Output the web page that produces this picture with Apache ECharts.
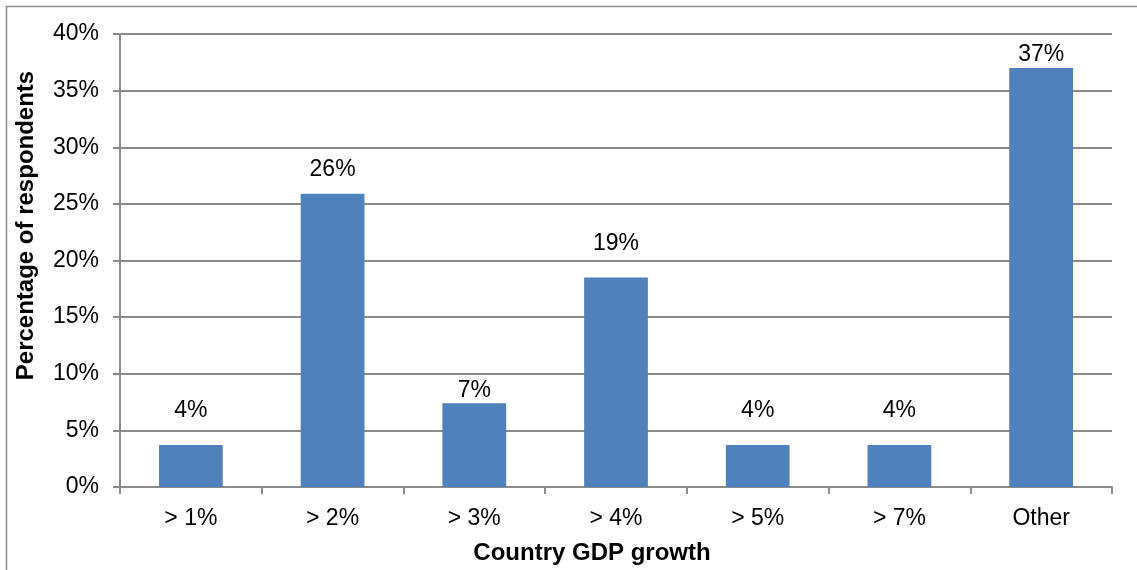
<!DOCTYPE html>
<html><head><meta charset="utf-8">
<script src="https://cdn.jsdelivr.net/npm/echarts@6/dist/echarts.min.js"></script>
<style>html,body{margin:0;padding:0;background:#fff}#c{width:1137px;height:570px}</style>
</head><body><div id="c"></div>
<script>
const categories = ['> 1%', '> 2%', '> 3%', '> 4%', '> 5%', '> 7%', 'Other'];
const values = [3.7, 25.9, 7.4, 18.5, 3.7, 3.7, 37.0];
const yTicks = [0, 5, 10, 15, 20, 25, 30, 35, 40];
const xTitle = 'Country GDP growth';
const yTitle = 'Percentage of respondents';

const FONT = '"Liberation Sans", Arial, sans-serif';
// label gap above each bar (style only)
const labelGaps = [23, 13, 1, 22, 23, 23, 2];
const chart = echarts.init(document.getElementById('c'), null, {renderer: 'canvas'});
chart.setOption({
  animation: false,
  graphic: [{type: 'rect', shape: {x: 6.5, y: 6.5, width: 1300, height: 700}, style: {fill: 'none', stroke: '#8a8a8a', lineWidth: 1.5}, z: -10}],
  grid: {left: 120, right: 25, top: 34, bottom: 83, containLabel: false},
  xAxis: {
    type: 'category', data: categories,
    name: xTitle, nameLocation: 'middle', nameGap: 54,
    nameTextStyle: {fontFamily: FONT, fontSize: 24, fontWeight: 'bold', color: '#000', padding: [0, 48, 0, 0]},
    axisLine: {lineStyle: {color: '#8a8a8a', width: 2}},
    axisTick: {show: true, length: 7, alignWithLabel: false, lineStyle: {color: '#8a8a8a', width: 2}},
    axisLabel: {fontFamily: FONT, fontSize: 23, color: '#000', margin: 20}
  },
  yAxis: {
    type: 'value', min: yTicks[0], max: yTicks[yTicks.length - 1], interval: 5,
    name: yTitle, nameLocation: 'middle', nameGap: 82,
    nameTextStyle: {fontFamily: FONT, fontSize: 24, fontWeight: 'bold', color: '#000', padding: [0, 0, 0, 70]},
    axisLine: {show: true, lineStyle: {color: '#8a8a8a', width: 2}},
    axisTick: {show: true, length: 7, lineStyle: {color: '#8a8a8a', width: 2}},
    splitLine: {lineStyle: {color: '#8a8a8a', width: 2}},
    axisLabel: {fontFamily: FONT, fontSize: 23, color: '#000', margin: 21, formatter: v => v + '%'}
  },
  series: [{
    type: 'bar',
    data: values.map((v, i) => ({value: v, label: {distance: labelGaps[i]}})),
    barWidth: '45%',
    itemStyle: {color: '#4F81BD'},
    label: {show: true, position: 'top', fontFamily: FONT, fontSize: 23, color: '#000',
      formatter: p => Math.round(p.value) + '%'}
  }]
});
</script></body></html>
